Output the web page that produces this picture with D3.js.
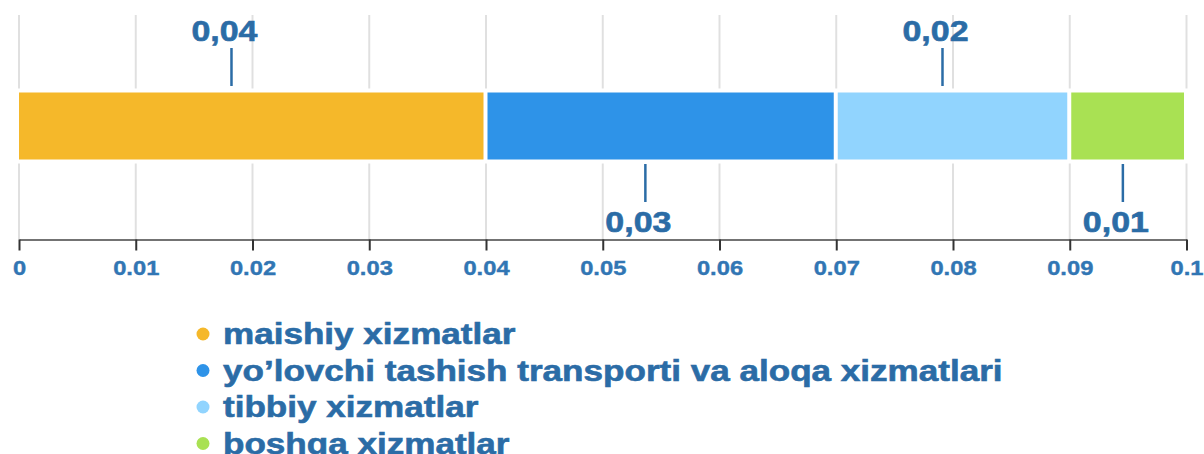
<!DOCTYPE html>
<html>
<head>
<meta charset="utf-8">
<script src="https://cdn.jsdelivr.net/npm/d3@7"></script>
<style>
  body { margin: 0; background: #fff; }
  svg { display: block; font-family: "Liberation Sans", Arial, sans-serif; font-weight: bold; }
</style>
</head>
<body>
<div id="chart"></div>
<script>
const categories = [
  "maishiy xizmatlar",
  "yo’lovchi tashish transporti va aloqa xizmatlari",
  "tibbiy xizmatlar",
  "boshqa xizmatlar"
];
const values = [0.04, 0.03, 0.02, 0.01];
const valueLabels = ["0,04", "0,03", "0,02", "0,01"];
const labelSides = ["top", "bottom", "top", "bottom"];
const colors = ["#f5b82a", "#2e93e8", "#91d4fe", "#a9e153"];
const tickValues = [0, 0.01, 0.02, 0.03, 0.04, 0.05, 0.06, 0.07, 0.08, 0.09, 0.1];
const tickLabels = ["0", "0.01", "0.02", "0.03", "0.04", "0.05", "0.06", "0.07", "0.08", "0.09", "0.1"];

const width = 1204;
const height = 454;
const textColor = "#2b6ca6";

const svg = d3.select("#chart").append("svg")
  .attr("width", width)
  .attr("height", height);

const x = d3.scaleLinear().domain([0, 0.1]).range([19, 1186.5]);

const barTop = 92.5, barH = 67, axisY = 239.5;

// stacked segments
let acc = 0;
const segs = values.map((v, i) => {
  const s = { i, start: acc, end: acc + v, v };
  acc += v;
  return s;
});

// gridlines
svg.append("g")
  .selectAll("line")
  .data(tickValues)
  .join("line")
  .attr("x1", d => x(d)).attr("x2", d => x(d))
  .attr("y1", 15).attr("y2", axisY)
  .attr("stroke", "#e0e0e0")
  .attr("stroke-width", 2);

// white band behind the bar so gridlines stop short of it
svg.append("rect")
  .attr("x", x(0) - 4).attr("y", barTop - 4)
  .attr("width", x(0.1) - x(0) + 8).attr("height", barH + 8)
  .attr("fill", "#fff");

svg.append("g")
  .selectAll("rect")
  .data(segs)
  .join("rect")
  .attr("x", d => x(d.start) + (d.i ? 1.5 : 0))
  .attr("y", barTop)
  .attr("width", d => x(d.end) - x(d.start) - (d.i ? 1.5 : 0) - 2.5)
  .attr("height", barH)
  .attr("fill", d => colors[d.i]);

// axis
const axis = d3.axisBottom(x)
  .tickValues(tickValues)
  .tickFormat((d, i) => tickLabels[i])
  .tickSize(11)
  .tickSizeOuter(0);

const ax = svg.append("g")
  .attr("transform", `translate(0,${axisY})`)
  .call(axis);
ax.select(".domain").attr("stroke", "#444").attr("stroke-width", 1.5);
ax.selectAll(".tick line").attr("stroke", "#333").attr("stroke-width", 2);
ax.selectAll(".tick text")
  .attr("fill", "#3176b4")
  .attr("stroke", "#3176b4")
  .attr("stroke-width", 0.4)
  .attr("font-size", 21)
  .attr("font-family", "Liberation Sans, Arial, sans-serif")
  .attr("font-weight", "bold")
  .attr("y", 0).attr("dy", 0)
  .attr("transform", "translate(0,35) scale(1.13,1)");

// value labels with leader lines
const lab = svg.append("g")
  .selectAll("g")
  .data(segs)
  .join("g")
  .attr("transform", d => `translate(${x(d.start + (d.end - d.start) * 0.455)},0)`);

lab.append("line")
  .attr("x1", 0).attr("x2", 0)
  .attr("y1", (d, i) => labelSides[i] === "top" ? 48 : 164)
  .attr("y2", (d, i) => labelSides[i] === "top" ? 86 : 202)
  .attr("stroke", textColor)
  .attr("stroke-width", 2.5);

lab.append("text")
  .attr("text-anchor", "middle")
  .attr("transform", (d, i) => `translate(-7,${labelSides[i] === "top" ? 41 : 232}) scale(1.17,1)`)
  .attr("font-size", 29)
  .attr("fill", textColor)
  .attr("stroke", textColor)
  .attr("stroke-width", 0.6)
  .text((d, i) => valueLabels[i]);

// legend
const leg = svg.append("g")
  .selectAll("g")
  .data(categories)
  .join("g")
  .attr("transform", (d, i) => `translate(0,${344 + i * 36.5})`);

leg.append("circle")
  .attr("cx", 203).attr("cy", -10)
  .attr("r", 6.5)
  .attr("fill", (d, i) => colors[i]);

leg.append("text")
  .attr("transform", "translate(223,0) scale(1.21,1)")
  .attr("font-size", 29)
  .attr("fill", textColor)
  .attr("stroke", textColor)
  .attr("stroke-width", 0.6)
  .text(d => d);
</script>
</body>
</html>
